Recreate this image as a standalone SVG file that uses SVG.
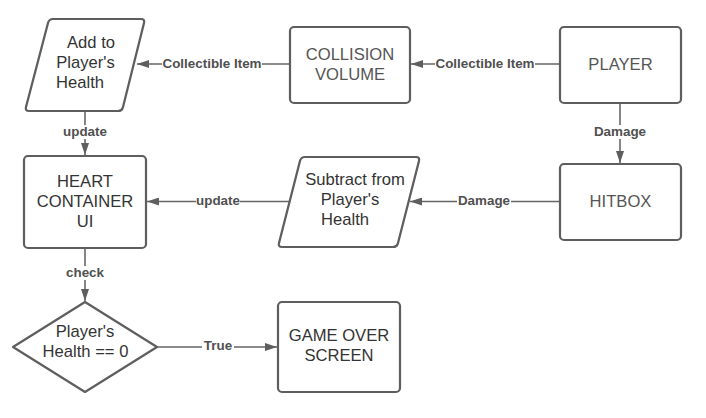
<svg xmlns="http://www.w3.org/2000/svg" width="706" height="418" viewBox="0 0 706 418">
<style>
.node{fill:#fff;stroke:#5e5e5e;stroke-width:2.2;stroke-linejoin:round}
.t{font-family:"Liberation Sans",Arial,sans-serif;font-size:16.6px;fill:#333;text-anchor:middle}
.t2{fill:#555}
.c{stroke:#666;stroke-width:1.6;fill:none}
.lb{font-family:"Liberation Sans",Arial,sans-serif;font-size:13.4px;font-weight:bold;fill:#505050;text-anchor:middle}
.bg{fill:#fff}
</style>
<defs>
<marker id="ah" markerUnits="userSpaceOnUse" markerWidth="12" markerHeight="8" refX="12" refY="4" orient="auto">
<path d="M0,0 L12,4 L0,8 Z" fill="#5e5e5e"/>
</marker>
</defs>
<rect width="706" height="418" fill="#fff"/>
<g id="connectors">
<line class="c" x1="560" y1="64" x2="411" y2="64" marker-end="url(#ah)"/>
<rect class="bg" x="435" y="57" width="100" height="14"/>
<text class="lb" x="485" y="68">Collectible Item</text>
<line class="c" x1="290" y1="64" x2="137" y2="64" marker-end="url(#ah)"/>
<rect class="bg" x="162" y="57" width="100" height="14"/>
<text class="lb" x="212" y="68">Collectible Item</text>
<line class="c" x1="85" y1="111" x2="85" y2="155" marker-end="url(#ah)"/>
<rect class="bg" x="63" y="125" width="44" height="14"/>
<text class="lb" x="85" y="136">update</text>
<line class="c" x1="620" y1="103" x2="620" y2="163" marker-end="url(#ah)"/>
<rect class="bg" x="593" y="125" width="54" height="14"/>
<text class="lb" x="620" y="136">Damage</text>
<line class="c" x1="560" y1="201.5" x2="410" y2="201.5" marker-end="url(#ah)"/>
<rect class="bg" x="457" y="194" width="54" height="14"/>
<text class="lb" x="484" y="205">Damage</text>
<line class="c" x1="291" y1="201.5" x2="147" y2="201.5" marker-end="url(#ah)"/>
<rect class="bg" x="196" y="194" width="44" height="14"/>
<text class="lb" x="218" y="205">update</text>
<line class="c" x1="85" y1="248" x2="85" y2="301" marker-end="url(#ah)"/>
<rect class="bg" x="65" y="266" width="40" height="14"/>
<text class="lb" x="85" y="277">check</text>
<line class="c" x1="157" y1="347" x2="277" y2="347" marker-end="url(#ah)"/>
<rect class="bg" x="202" y="339" width="32" height="14"/>
<text class="lb" x="218" y="350">True</text>
</g>
<g id="add-health">
<path class="node" d="M53,19 L141,19 Q145,19 144.03,22.88 L122.97,107.12 Q122,111 118,111 L29,111 Q25,111 25.97,107.12 L48.03,22.88 Q49,19 53,19 Z"/>
<text class="t" x="91" y="48">Add to</text>
<text class="t" x="85.5" y="68">Player's</text>
<text class="t" x="80" y="88">Health</text>
</g>
<g id="collision-volume">
<rect class="node" x="290" y="27" width="120" height="76" rx="4"/>
<text class="t t2" x="350" y="60">COLLISION</text>
<text class="t t2" x="350" y="80">VOLUME</text>
</g>
<g id="player">
<rect class="node" x="560" y="27" width="121" height="76" rx="4"/>
<text class="t t2" x="620.5" y="70">PLAYER</text>
</g>
<g id="heart-container">
<rect class="node" x="24" y="156" width="122" height="92" rx="4"/>
<text class="t" x="85" y="187">HEART</text>
<text class="t" x="85" y="207">CONTAINER</text>
<text class="t" x="85" y="227">UI</text>
</g>
<g id="subtract-health">
<path class="node" d="M305,157 L416,157 Q420,157 419.01,160.88 L397.99,243.12 Q397,247 393,247 L282,247 Q278,247 278.99,243.12 L300.01,160.88 Q301,157 305,157 Z"/>
<text class="t" x="355" y="185">Subtract from</text>
<text class="t" x="350" y="205">Player's</text>
<text class="t" x="345" y="225">Health</text>
</g>
<g id="hitbox">
<rect class="node" x="560" y="164" width="121" height="76" rx="4"/>
<text class="t t2" x="620.5" y="207">HITBOX</text>
</g>
<g id="health-check">
<path class="node" d="M85,302 L157,347 L85,392 L13,347 Z"/>
<text class="t" x="85" y="337">Player's</text>
<text class="t" x="85.5" y="357">Health == 0</text>
</g>
<g id="game-over">
<rect class="node" x="278" y="302" width="122" height="90" rx="4"/>
<text class="t" x="339" y="341">GAME OVER</text>
<text class="t" x="339" y="361">SCREEN</text>
</g>
</svg>
